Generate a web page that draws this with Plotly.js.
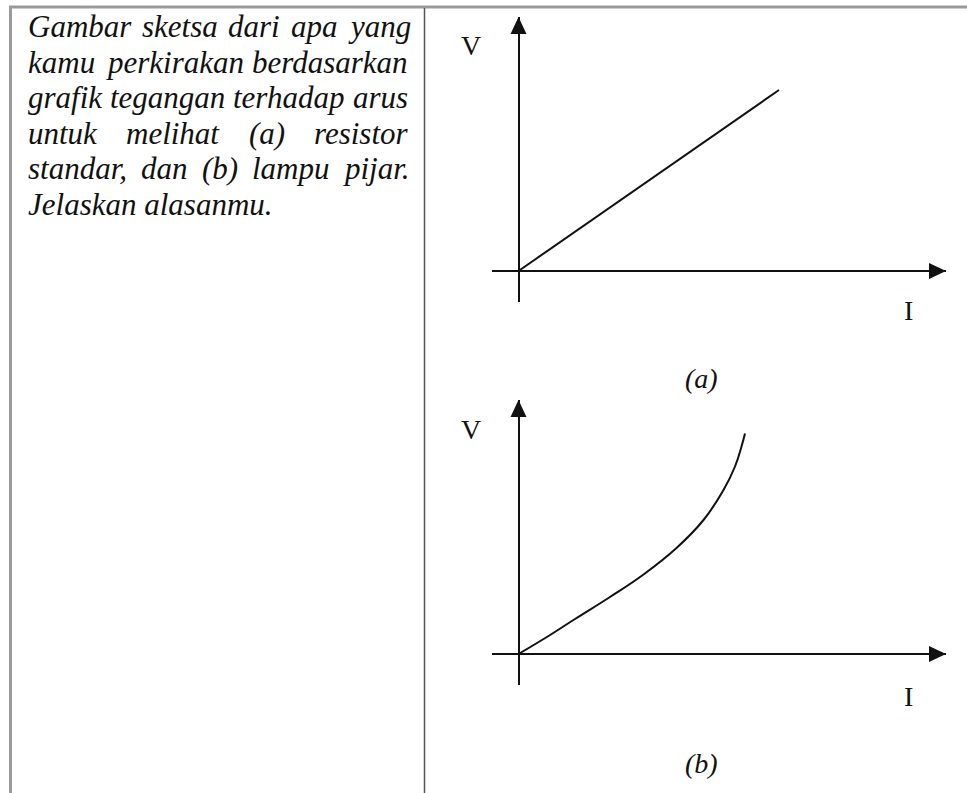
<!DOCTYPE html>
<html><head><meta charset="utf-8">
<script src="https://cdn.plot.ly/plotly-3.0.1.min.js"></script>
<style>html,body{margin:0;padding:0;background:#fff;}#chart{width:967px;height:793px;}</style>
</head><body><div id="chart"></div>
<script>
// ---- data (arbitrary units) ----
const currentA = [0, 5.21];
const voltageA = [0, 3.62];
const currentB = [0, 0.60, 1.13, 1.83, 2.50, 3.16, 3.70, 4.10, 4.33, 4.46, 4.53];
const voltageB = [0, 0.36, 0.70, 1.14, 1.59, 2.12, 2.68, 3.28, 3.75, 4.15, 4.41];
const axisLabelV = 'V';
const axisLabelI = 'I';
const panelLabels = ['(a)', '(b)'];
const questionLines = [
  'Gambar sketsa dari apa yang',
  'kamu perkirakan berdasarkan',
  'grafik tegangan terhadap arus',
  'untuk melihat (a) resistor',
  'standar, dan (b) lampu pijar.',
  'Jelaskan alasanmu.'
];

// ---- layout helpers ----
const W = 967, H = 793;
const px = x => x / W;
const py = y => 1 - y / H;
const xRange = [-0.53, 8.55];
const yRange = [-0.62, 5.08];
const ink = '#111';
const serif = 'Liberation Serif, Times New Roman, serif';

const traces = [
  {x: currentA, y: voltageA, xaxis: 'x', yaxis: 'y', mode: 'lines',
   line: {color: ink, width: 2}, hoverinfo: 'skip', showlegend: false},
  {x: currentB, y: voltageB, xaxis: 'x2', yaxis: 'y2', mode: 'lines',
   line: {color: ink, width: 2, shape: 'spline', smoothing: 1.2}, hoverinfo: 'skip', showlegend: false}
];

function axis(domain, range, anchor) {
  return {domain: domain, range: range, anchor: anchor, showgrid: false, showticklabels: false,
    ticks: '', showline: false, zeroline: true, zerolinecolor: ink, zerolinewidth: 2, fixedrange: true};
}

const shapes = [
  // table borders
  {type: 'line', xref: 'paper', yref: 'paper', x0: px(9), x1: 1, y0: py(7), y1: py(7), line: {color: '#9a9a9a', width: 3}},
  {type: 'line', xref: 'paper', yref: 'paper', x0: px(10.5), x1: px(10.5), y0: py(6), y1: 0, line: {color: '#9a9a9a', width: 3}},
  {type: 'line', xref: 'paper', yref: 'paper', x0: px(424.5), x1: px(424.5), y0: py(8), y1: 0, line: {color: '#555', width: 1.5}}
];
[['x', 'y'], ['x2', 'y2']].forEach(([xr, yr]) => {
  shapes.push({type: 'path', xref: xr, yref: yr, xsizemode: 'pixel', ysizemode: 'pixel',
    xanchor: 0, yanchor: yRange[1], path: 'M-8,-17 L8,-17 L0,0 Z', fillcolor: ink, line: {width: 0}});
  shapes.push({type: 'path', xref: xr, yref: yr, xsizemode: 'pixel', ysizemode: 'pixel',
    xanchor: xRange[1], yanchor: 0, path: 'M-17,8 L-17,-8 L0,0 Z', fillcolor: ink, line: {width: 0}});
});

const annotations = [];
function addText(text, x, y, size, italic, xanchor) {
  annotations.push({xref: 'paper', yref: 'paper', x: px(x), y: py(y), text: italic ? '<i>' + text + '</i>' : text,
    showarrow: false, xanchor: xanchor || 'center', yanchor: 'middle', borderpad: 0, borderwidth: 0,
    font: {family: serif, size: size, color: ink}});
}
// axis labels and panel labels
addText(axisLabelV, 471, 46, 28, false);
addText(axisLabelV, 471, 429, 28, false);
addText(axisLabelI, 908.5, 311, 28, false);
addText(axisLabelI, 908.5, 696, 28, false);
addText(panelLabels[0], 701, 378, 28, true);
addText(panelLabels[1], 701, 763, 28, true);

// justified question text
const fs = 31, left = 28, right = 408, base0 = 37, lineGap = 35.6;
const ctx = document.createElement('canvas').getContext('2d');
ctx.font = 'italic ' + fs + 'px "Liberation Serif"';
questionLines.forEach((line, i) => {
  const cy = base0 + i * lineGap - 0.3375 * fs;
  if (i === questionLines.length - 1) { addText(line, left, cy, fs, true, 'left'); return; }
  const words = line.split(' ');
  const widths = words.map(w => ctx.measureText(w).width);
  const total = widths.reduce((a, b) => a + b, 0);
  const gap = (right - left - total) / (words.length - 1);
  let x = left;
  words.forEach((w, k) => { addText(w, x, cy, fs, true, 'left'); x += widths[k] + gap; });
});

const layout = {
  width: W, height: H, margin: {l: 0, r: 0, t: 0, b: 0},
  paper_bgcolor: '#fff', plot_bgcolor: 'rgba(0,0,0,0)', showlegend: false,
  xaxis: axis([px(492), px(946)], xRange, 'y'),
  yaxis: axis([py(302), py(17)], yRange, 'x'),
  xaxis2: axis([px(492), px(946)], xRange, 'y2'),
  yaxis2: axis([py(685), py(400)], yRange, 'x2'),
  shapes: shapes, annotations: annotations
};
Plotly.newPlot('chart', traces, layout, {displayModeBar: false, staticPlot: true});
</script></body></html>
